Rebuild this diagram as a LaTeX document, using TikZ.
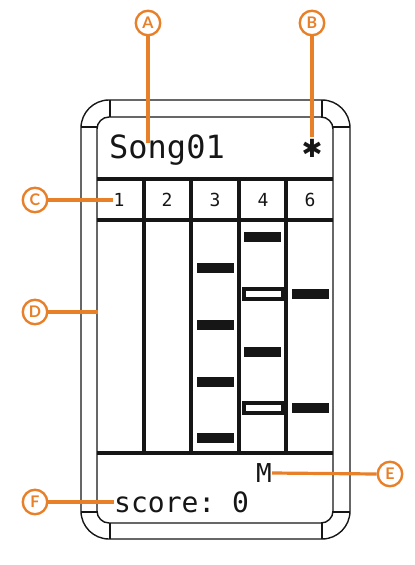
\documentclass[tikz,border=0pt]{standalone}
\usepackage{fontspec}
\setmonofont{DejaVu Sans Mono}
\setsansfont{Lato}
\usepackage{xcolor}
\usepackage{tikz}
\usetikzlibrary{positioning,calc}
\definecolor{callout}{RGB}{232, 128, 42}
\definecolor{ink}{RGB}{22, 22, 22}

\begin{document}
\begin{tikzpicture}[
    x=1pt, y=-1pt,
    badge/.style={circle, draw=callout, line width=2.4pt, fill=white, text=callout, font=\sffamily\bfseries\fontsize{16}{16}\selectfont, minimum size=24.5pt, inner sep=0pt},
    leader/.style={draw=callout, line width=3.2pt},
    casing/.style={draw=ink, line width=1.4pt},
    gridline/.style={draw=ink, line width=4.8pt},
    notebar/.style={fill=ink, minimum width=37pt, minimum height=10pt, inner sep=0pt},
    holdbar/.style={draw=ink, fill=white, line width=4pt, minimum width=39pt, minimum height=10pt, inner sep=0pt},
    lcd/.style={font=\ttfamily\fontsize{#1}{#1}\selectfont, text=ink, inner sep=0pt}
]
\useasboundingbox (0,0) rectangle (415,565);

% ==================== DEVICE CASING ====================
\draw[casing, rounded corners=28pt] (81,100) rectangle (350,539);
\draw[casing, rounded corners=12pt] (97,117) rectangle (333,523);
\draw[casing] (110,100) -- (110,117);
\draw[casing] (322,100) -- (322,117);
\draw[casing] (110,523) -- (110,539);
\draw[casing] (322,523) -- (322,539);
\draw[casing] (81,127) -- (97,127);
\draw[casing] (333,127) -- (350,127);
\draw[casing] (81,512) -- (97,512);
\draw[casing] (333,512) -- (350,512);

% ==================== SCREEN GRID ====================
\foreach \y in {179, 220, 453}
    \draw[gridline] (97,\y) -- (333,\y);
\foreach \x in {144, 191, 239, 286}
    \draw[gridline] (\x,179) -- (\x,453);

% Header
\node[lcd=32, anchor=base west] (title) at (109,158) {Song01};
\node[font=\fontspec{DejaVu Sans}\fontsize{25}{25}\selectfont, text=ink, inner sep=0pt] (bt) at (312,148) {✱};

% Column numbers
\foreach \x/\t in {119/1, 167/2, 215/3, 263/4, 310/6}
    \node[lcd=18] (col\t) at (\x,200) {\t};

% Notes
\foreach \y in {268, 325, 382, 438}
    \node[notebar] at (215.5,\y) {};
\foreach \y in {237, 352}
    \node[notebar] at (262,\y) {};
\foreach \y in {294, 408} {
    \node[holdbar] at (263.5,\y) {};
    \node[notebar] at (310.5,\y) {};
}

% Footer
\node[lcd=26] (mode) at (264,473) {M};
\node[lcd=28, anchor=base west] (score) at (114,512) {score: 0};

% ==================== CALLOUTS ====================
\node[badge] (A) at (148,23) {A};
\node[badge] (B) at (312,23) {B};
\node[badge] (C) at (35,200) {C};
\node[badge] (D) at (35,312) {D};
\node[badge] (E) at (390,474) {E};
\node[badge] (F) at (35,502) {F};

\coordinate (titlept) at (148,143);
\coordinate (btpt) at (312,137);
\coordinate (lanept) at (98,312);

\draw[leader] (A.south) -- (titlept);
\draw[leader] (B.south) -- (btpt);
\draw[leader] (C.east) -- (col1.west);
\draw[leader] (D.east) -- (lanept);
\draw[leader] (E.west) -- (mode.east);
\draw[leader] (F.east) -- (score.west |- F.east);

\end{tikzpicture}
\end{document}
